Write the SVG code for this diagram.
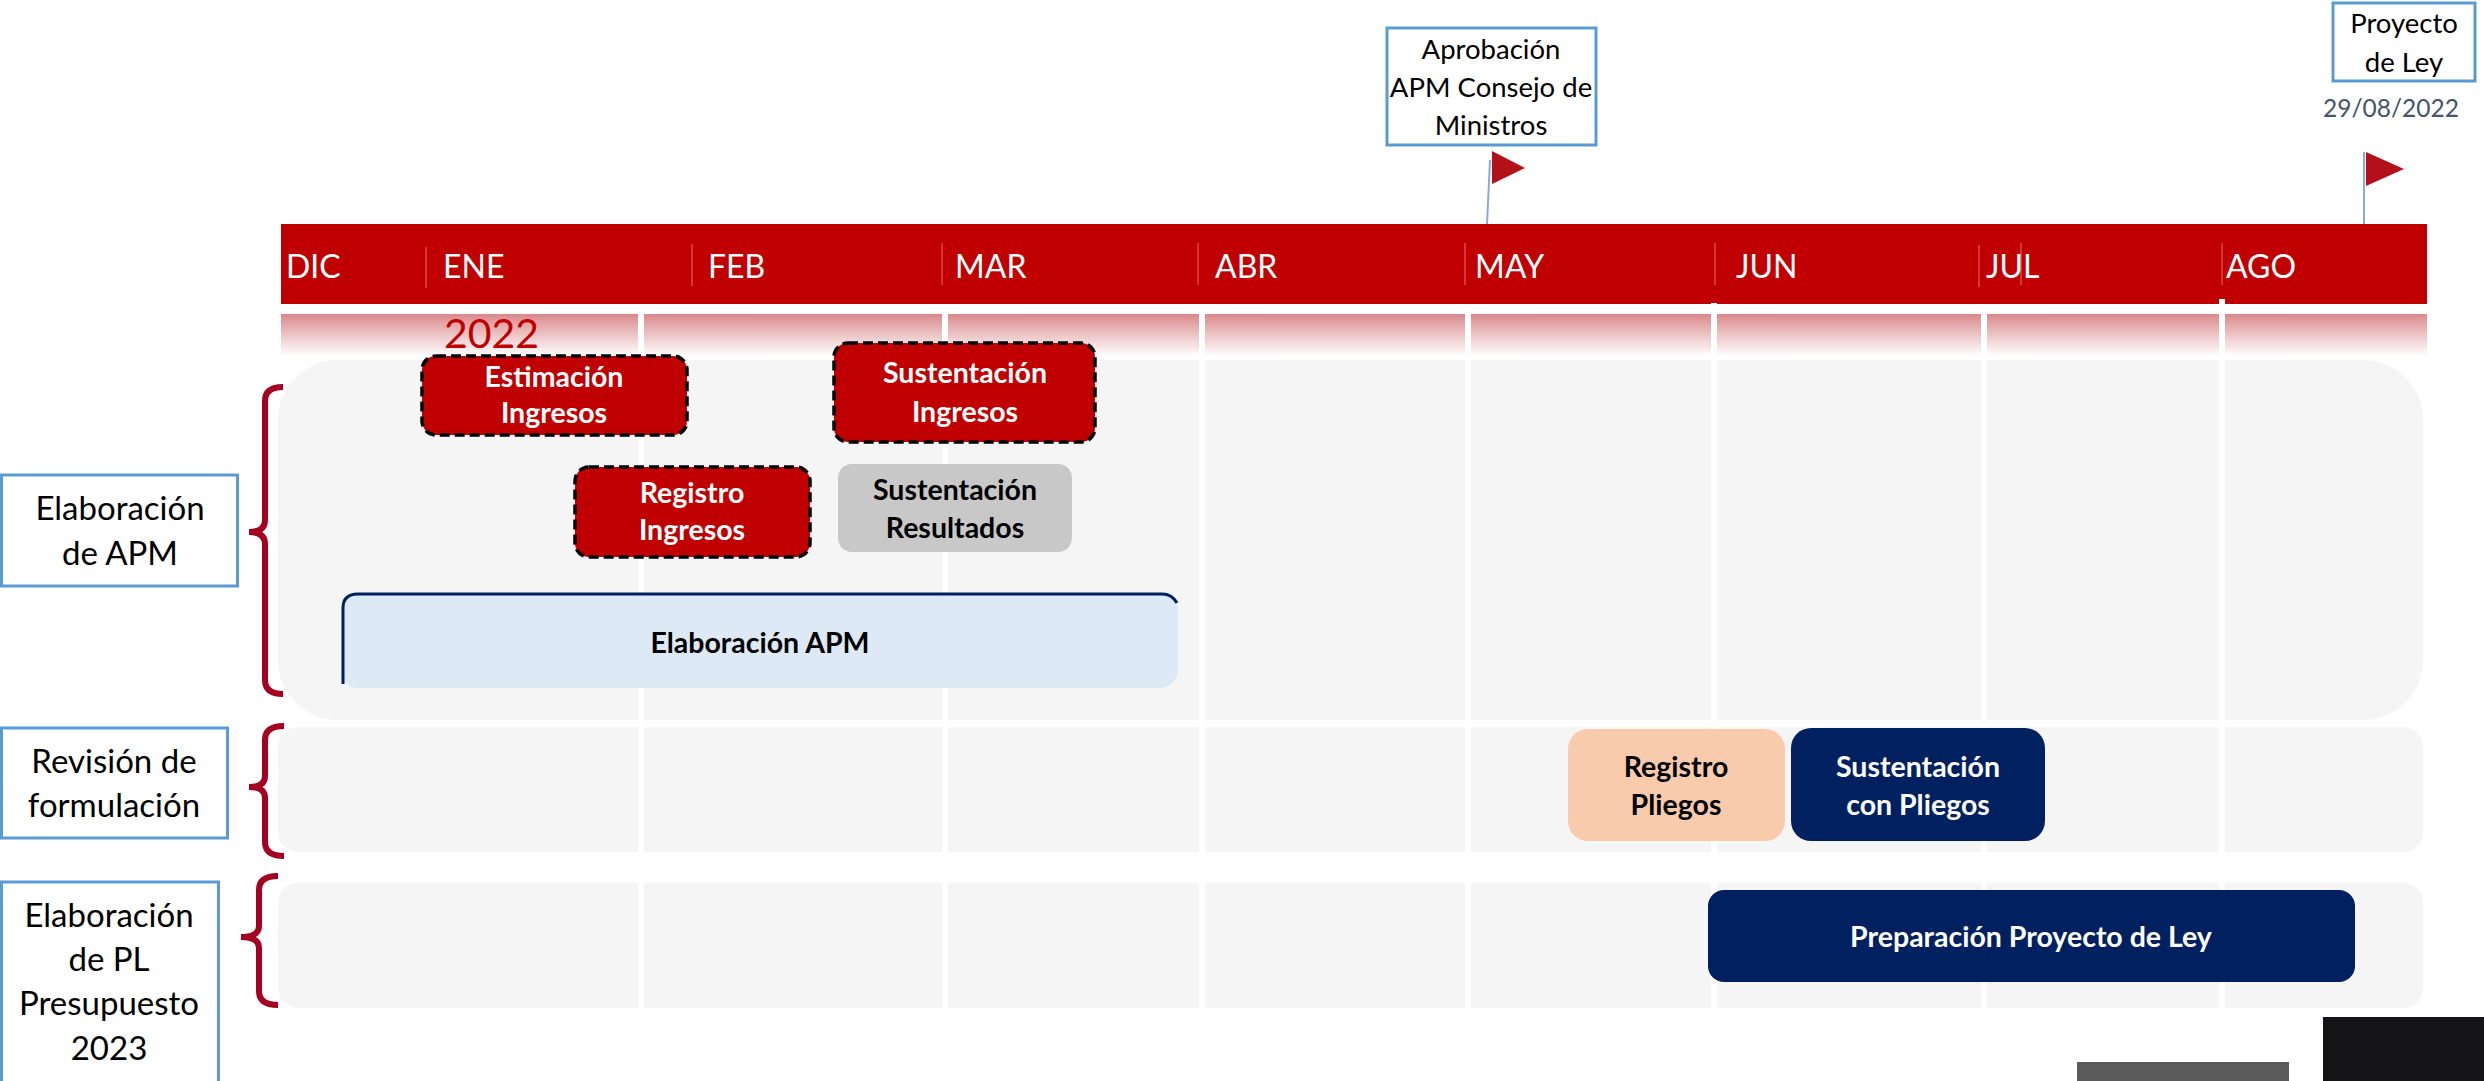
<svg xmlns="http://www.w3.org/2000/svg" width="2484" height="1081" viewBox="0 0 2484 1081">
<defs>
<linearGradient id="band" x1="0" y1="0" x2="0" y2="1">
<stop offset="0" stop-color="#d9878a"/>
<stop offset="0.15" stop-color="#e09c9e"/>
<stop offset="1" stop-color="#ffffff"/>
</linearGradient>
<style>
text{font-family:Lato,"Liberation Sans",sans-serif;}
.month{fill:#fff;font-size:32px;}
.sep{stroke:#e0474a;stroke-width:1.5;}
.grid{stroke:#fff;stroke-width:6;}
.lane{fill:#f5f5f5;}
.brace{fill:none;stroke:#a50021;stroke-width:6;stroke-linecap:butt;}
.lbl{fill:#fff;stroke:#5b9bd5;stroke-width:3;}
.lt{font-size:33px;fill:#000;text-anchor:middle;}
.ms{font-size:27.5px;fill:#000;text-anchor:middle;}
.red{fill:#c00000;stroke:#000;stroke-width:3.5;stroke-dasharray:10 5;}
.tw{font-size:28.5px;font-weight:bold;fill:#fff;text-anchor:middle;}
.tb{font-size:28.5px;font-weight:bold;fill:#000;text-anchor:middle;}
.flag{fill:#b3111a;}
.pole{stroke:#8fa9d4;stroke-width:2;}
</style>
</defs>

<g id="header">
<rect x="281" y="224" width="2146" height="80" fill="#c00000"/>
<line class="sep" x1="426" y1="247" x2="426" y2="288"/>
<line class="sep" x1="692" y1="244" x2="692" y2="286"/>
<line class="sep" x1="942" y1="243" x2="942" y2="285"/>
<line class="sep" x1="1198" y1="243" x2="1198" y2="285"/>
<line class="sep" x1="1465" y1="243" x2="1465" y2="285"/>
<line class="sep" x1="1715" y1="243" x2="1715" y2="285"/>
<line class="sep" x1="1979" y1="245" x2="1979" y2="287"/>
<line class="sep" x1="2021" y1="243" x2="2021" y2="285"/>
<line class="sep" x1="2222" y1="243" x2="2222" y2="285"/>
<text class="month" x="286" y="278">DIC</text>
<text class="month" x="443" y="278">ENE</text>
<text class="month" x="708" y="278">FEB</text>
<text class="month" x="955" y="278">MAR</text>
<text class="month" x="1215" y="278">ABR</text>
<text class="month" x="1475" y="278">MAY</text>
<text class="month" x="1736" y="278">JUN</text>
<text class="month" x="1986" y="278">JUL</text>
<text class="month" x="2226" y="278">AGO</text>
<rect x="281" y="314" width="2146" height="42" fill="url(#band)"/>
<text x="444" y="348" font-size="41" fill="#c00000">2022</text>
</g>

<g id="lanes">
<rect class="lane" x="278" y="360" width="2145" height="360" rx="60" ry="60"/>
<rect class="lane" x="278" y="727" width="2145" height="125" rx="20" ry="20"/>
<rect class="lane" x="278" y="883" width="2145" height="125" rx="20" ry="20"/>
<line class="grid" x1="641" y1="314" x2="641" y2="1008"/>
<line class="grid" x1="945" y1="314" x2="945" y2="1008"/>
<line class="grid" x1="1202" y1="314" x2="1202" y2="1008"/>
<line class="grid" x1="1468" y1="314" x2="1468" y2="1008"/>
<line class="grid" x1="1714" y1="303" x2="1714" y2="1008"/>
<line class="grid" x1="1984" y1="314" x2="1984" y2="1008"/>
<line class="grid" x1="2222" y1="299" x2="2222" y2="1008"/>
</g>

<g id="milestone-aprobacion">
<line class="pole" x1="1490" y1="160" x2="1487" y2="224"/>
<polygon class="flag" points="1492,151 1525,168 1492,184"/>
<rect class="lbl" x="1387" y="28" width="209" height="117"/>
<text class="ms" x="1491" y="59">Aprobación</text>
<text class="ms" x="1491" y="97">APM Consejo de</text>
<text class="ms" x="1491" y="135">Ministros</text>
</g>

<g id="milestone-proyecto">
<line class="pole" x1="2364" y1="152" x2="2364" y2="224"/>
<polygon class="flag" points="2366,152 2404,169 2366,186"/>
<rect class="lbl" x="2333" y="3" width="142" height="78"/>
<text class="ms" x="2404" y="33">Proyecto</text>
<text class="ms" x="2404" y="72">de Ley</text>
<text x="2391" y="117" font-size="24.5" fill="#44546a" text-anchor="middle">29/08/2022</text>
</g>

<g id="label-apm">
<rect class="lbl" x="1.5" y="475" width="236" height="111"/>
<text class="lt" x="120" y="520">Elaboración</text>
<text class="lt" x="120" y="565">de APM</text>
<path class="brace" d="M283,387 Q265,387 265,401 L265,520 Q265,532 249,532 Q265,532 265,544 L265,680 Q265,694 283,694"/>
</g>

<g id="label-revision">
<rect class="lbl" x="1.5" y="728" width="226" height="110"/>
<text class="lt" x="114" y="773">Revisión de</text>
<text class="lt" x="114" y="817">formulación</text>
<path class="brace" d="M284,726 Q265,726 265,740 L265,776 Q265,787 249,787 Q265,787 265,798 L265,842 Q265,856 284,856"/>
</g>

<g id="label-pl">
<rect class="lbl" x="1.5" y="882" width="217" height="210"/>
<text class="lt" x="109" y="927">Elaboración</text>
<text class="lt" x="109" y="971">de PL</text>
<text class="lt" x="109" y="1015">Presupuesto</text>
<text class="lt" x="109" y="1060">2023</text>
<path class="brace" d="M278,876 Q259,876 259,890 L259,926 Q259,937 241,937 Q259,937 259,948 L259,991 Q259,1005 278,1005"/>
</g>

<g id="task-estimacion">
<rect class="red" x="422" y="356" width="265" height="79" rx="14"/>
<text class="tw" x="554" y="387">Estimación</text>
<text class="tw" x="554" y="423">Ingresos</text>
</g>

<g id="task-registro-ingresos">
<rect class="red" x="575" y="467" width="235" height="90" rx="14"/>
<text class="tw" x="692" y="503">Registro</text>
<text class="tw" x="692" y="540">Ingresos</text>
</g>

<g id="task-sustentacion-ingresos">
<rect class="red" x="834" y="343" width="261" height="99" rx="14"/>
<text class="tw" x="965" y="383">Sustentación</text>
<text class="tw" x="965" y="422">Ingresos</text>
</g>

<g id="task-sustentacion-resultados">
<rect x="838" y="464" width="234" height="88" rx="14" fill="#c8c8c8"/>
<text class="tb" x="955" y="500">Sustentación</text>
<text class="tb" x="955" y="538">Resultados</text>
</g>

<g id="task-elaboracion-apm">
<rect x="341" y="593" width="837" height="95" rx="18" fill="#dde9f5"/>
<path d="M343,684 L343,608 Q343,594 358,594 L1162,594 Q1172,594 1177,603" fill="none" stroke="#002060" stroke-width="3"/>
<text class="tb" x="760" y="653">Elaboración APM</text>
</g>

<g id="task-registro-pliegos">
<rect x="1568" y="729" width="217" height="112" rx="20" fill="#f8cbad"/>
<text class="tb" x="1676" y="777">Registro</text>
<text class="tb" x="1676" y="815">Pliegos</text>
</g>

<g id="task-sustentacion-pliegos">
<rect x="1791" y="728" width="254" height="113" rx="20" fill="#002060"/>
<text class="tw" x="1918" y="777">Sustentación</text>
<text class="tw" x="1918" y="815">con Pliegos</text>
</g>

<g id="task-preparacion">
<rect x="1708" y="890" width="647" height="92" rx="16" fill="#002060"/>
<text class="tw" x="2031" y="947">Preparación Proyecto de Ley</text>
</g>

<g id="corner-shapes">
<rect x="2077" y="1062" width="212" height="19" fill="#5a5a5a"/>
<rect x="2323" y="1017" width="161" height="64" fill="#141416"/>
</g>
</svg>
